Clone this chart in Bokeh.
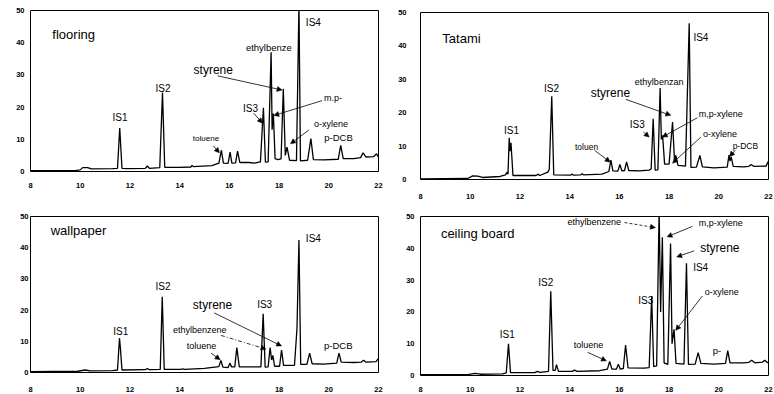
from bokeh.plotting import figure
from bokeh.models import Label, Arrow, NormalHead, FixedTicker, Range1d
from bokeh.layouts import row, column
from bokeh.embed import file_html
from bokeh.resources import INLINE

FONT = "Liberation Sans"

# retention time axis (min) and response axis
x_ticks = [8, 10, 12, 14, 16, 18, 20, 22]
y_ticks = [0, 10, 20, 30, 40, 50]

# ---- flooring ----
flooring_t = [8.0, 9.8, 10.0, 10.1, 10.3, 10.45, 11.3, 11.5, 11.59, 11.63, 11.68, 11.9,
              12.62, 12.7, 12.78, 13.2, 13.31, 13.4, 14.0, 14.45, 14.5, 14.55, 15.3,
              15.58, 15.68, 15.76, 15.95, 16.03, 16.1, 16.25, 16.33, 16.42, 16.8, 17.0,
              17.25, 17.37, 17.45, 17.56, 17.68, 17.72, 17.77, 17.84, 17.95, 18.08, 18.17,
              18.25, 18.32, 18.42, 18.7, 18.8, 18.86, 19.15, 19.28, 19.38, 19.8, 20.38,
              20.48, 20.58, 21.0, 21.28, 21.38, 21.5, 21.8, 21.92, 22.0]
flooring_y = [0.3, 0.3, 0.5, 1.2, 1.2, 0.8, 0.9, 1.0, 13.5, 8.0, 1.0, 0.9,
              1.0, 1.7, 1.0, 1.2, 24.5, 1.3, 1.3, 1.4, 1.9, 1.5, 1.8,
              2.6, 6.6, 2.6, 2.5, 6.0, 2.6, 2.7, 6.3, 2.8, 2.8, 2.6,
              3.0, 19.8, 2.9, 3.0, 37.0, 13.0, 18.0, 4.0, 3.7, 3.9, 25.7,
              5.0, 7.6, 3.5, 3.4, 52.0, 3.3, 3.5, 10.2, 3.7, 3.6, 3.8,
              8.1, 4.0, 4.0, 4.3, 5.8, 4.5, 4.6, 5.5, 4.5]

# ---- Tatami ----
tatami_t = [8.0, 9.9, 10.1, 10.3, 10.5, 11.2, 11.42, 11.48, 11.52, 11.57, 11.6, 11.64, 11.72,
            12.65, 12.72, 12.8, 13.12, 13.18, 13.28, 13.36, 14.05, 14.1, 14.15, 14.45, 14.5,
            14.55, 15.3, 15.58, 15.66, 15.74, 15.94, 16.02, 16.1, 16.21, 16.29, 16.38, 16.8,
            17.2, 17.28, 17.36, 17.44, 17.55, 17.64, 17.69, 17.74, 17.82, 18.0, 18.14, 18.22,
            18.27, 18.36, 18.66, 18.81, 18.88, 19.1, 19.24, 19.34, 19.8, 20.34, 20.41, 20.45,
            20.5, 20.58, 21.0, 21.2, 21.3, 21.42, 21.9, 22.0]
tatami_y = [0.2, 0.3, 1.1, 1.0, 0.6, 0.9, 1.4, 2.2, 1.6, 12.5, 8.5, 11.0, 1.2,
            1.2, 1.6, 1.2, 2.2, 3.0, 24.9, 1.4, 1.3, 1.7, 1.3, 1.4, 1.7,
            1.4, 1.6, 2.4, 5.8, 2.6, 2.5, 4.5, 2.6, 2.7, 5.3, 2.7, 2.6,
            2.8, 3.2, 18.2, 2.8, 2.9, 27.4, 12.0, 13.2, 4.6, 4.6, 17.2, 5.5,
            7.2, 4.2, 4.0, 46.8, 3.6, 3.7, 7.2, 3.8, 3.5, 3.7, 7.3, 5.5,
            6.8, 3.9, 3.8, 3.9, 4.5, 3.9, 4.0, 5.5]

# ---- wallpaper ----
wallpaper_t = [8.0, 9.9, 10.2, 10.4, 11.3, 11.5, 11.58, 11.62, 11.68, 12.62, 12.7, 12.78,
               13.22, 13.3, 13.38, 14.05, 14.12, 14.2, 15.0, 15.58, 15.66, 15.74, 15.95,
               16.02, 16.09, 16.22, 16.3, 16.4, 17.0, 17.27, 17.36, 17.44, 17.56, 17.64,
               17.7, 17.75, 17.82, 18.02, 18.1, 18.18, 18.62, 18.72, 18.8, 18.87, 19.12,
               19.23, 19.33, 19.8, 20.32, 20.41, 20.5, 21.0, 21.3, 21.4, 21.5, 21.9, 22.0]
wallpaper_y = [0.3, 0.4, 0.8, 0.5, 0.6, 0.8, 11.0, 7.5, 0.8, 0.9, 1.3, 0.9,
               1.0, 24.3, 1.0, 1.0, 1.2, 1.0, 1.3, 1.9, 3.9, 1.7, 1.6,
               3.0, 1.8, 1.8, 8.0, 1.8, 1.8, 1.8, 18.8, 1.7, 1.8, 8.0,
               4.0, 5.5, 2.0, 2.0, 7.2, 2.3, 2.3, 14.0, 42.5, 2.6, 2.6,
               6.2, 2.8, 2.7, 3.0, 6.2, 3.3, 3.2, 3.3, 3.9, 3.3, 3.5, 4.5]

# ---- ceiling board ----
ceiling_t = [8.0, 9.9, 10.2, 10.4, 11.3, 11.45, 11.54, 11.62, 12.6, 12.7, 12.8, 13.15,
             13.24, 13.33, 13.42, 13.47, 13.55, 14.1, 14.2, 14.3, 15.2, 15.52, 15.61, 15.7,
             15.88, 15.96, 16.04, 16.16, 16.25, 16.35, 17.0, 17.2, 17.3, 17.38, 17.5, 17.6,
             17.66, 17.73, 17.8, 17.95, 18.06, 18.12, 18.2, 18.28, 18.6, 18.7, 18.78, 19.05,
             19.17, 19.28, 19.8, 20.27, 20.36, 20.45, 21.0, 21.2, 21.32, 21.45, 21.75, 21.85,
             21.95, 22.0]
ceiling_y = [0.3, 0.3, 0.7, 0.4, 0.5, 0.8, 10.0, 0.9, 0.9, 1.3, 1.0, 1.3,
             26.5, 1.6, 1.6, 3.4, 1.3, 1.3, 1.7, 1.3, 1.5, 2.0, 4.4, 2.0,
             2.0, 3.5, 2.0, 2.2, 9.6, 2.4, 2.3, 2.5, 25.0, 2.8, 3.0, 52.0,
             20.0, 43.5, 4.0, 3.5, 41.5, 10.0, 14.5, 3.8, 3.6, 35.3, 3.5, 3.6,
             7.2, 3.8, 3.6, 3.8, 7.8, 4.0, 4.0, 4.1, 4.8, 4.0, 4.2, 4.8,
             4.1, 4.0]

# peak annotations: (text, t, y, font px, align)
flooring_labels = [
    ("flooring", 8.88, 42.5, 13, "left"),
    ("IS1", 11.60, 16.9, 10, "center"),
    ("IS2", 13.33, 25.9, 10, "center"),
    ("toluene", 15.06, 10.2, 8, "center"),
    ("IS3", 16.85, 19.6, 10, "center"),
    ("ethylbenze", 17.59, 38.6, 9.5, "center"),
    ("styrene", 14.56, 31.4, 12, "left"),
    ("m.p-", 20.17, 22.8, 9, "center"),
    ("IS4", 19.38, 46.4, 10, "center"),
    ("o-xylene", 20.09, 14.8, 9, "center"),
    ("p-DCB", 20.39, 10.7, 9.5, "center"),
]
flooring_arrows = [
    (15.35, 8.0, 15.60, 5.8, None),
    (16.98, 18.1, 17.33, 15.0, None),
    (15.53, 29.7, 18.12, 25.3, None),
    (19.73, 22.0, 17.79, 17.4, None),
    (19.20, 12.9, 18.46, 8.6, None),
]

tatami_labels = [
    ("Tatami", 8.88, 42.1, 13, "left"),
    ("IS1", 11.66, 14.7, 10, "center"),
    ("IS2", 13.27, 27.2, 10, "center"),
    ("toluen", 14.68, 9.7, 8.5, "center"),
    ("IS3", 16.72, 16.5, 10, "center"),
    ("ethylbenzan", 17.60, 29.1, 9, "center"),
    ("styrene", 14.85, 25.8, 12, "left"),
    ("m,p-xylene", 20.08, 19.7, 9, "center"),
    ("o-xylene", 20.05, 13.7, 9, "center"),
    ("IS4", 19.28, 42.6, 10, "center"),
    ("p-DCB", 21.07, 9.9, 8.5, "center"),
]
tatami_arrows = [
    (15.01, 8.7, 15.63, 5.2, None),
    (16.97, 14.2, 17.20, 12.7, None),
    (16.26, 24.0, 18.07, 19.2, None),
    (19.14, 18.5, 17.73, 12.7, None),
    (19.28, 12.7, 18.14, 4.9, None),
    (20.66, 8.7, 20.43, 6.9, None),
]

wallpaper_labels = [
    ("wallpaper", 8.81, 45.5, 13, "left"),
    ("IS1", 11.63, 13.0, 10, "center"),
    ("IS2", 13.33, 27.5, 10, "center"),
    ("styrene", 14.53, 21.6, 12, "left"),
    ("ethylbenzene", 14.81, 13.5, 9, "center"),
    ("toluene", 14.88, 8.6, 9, "center"),
    ("IS3", 17.42, 21.9, 10, "center"),
    ("IS4", 19.38, 42.9, 10, "center"),
    ("p-DCB", 20.38, 8.5, 9.5, "center"),
]
wallpaper_arrows = [
    (15.39, 19.1, 18.10, 8.5, None),
    (15.66, 11.9, 17.47, 7.5, "4 2 1 2"),
    (15.26, 6.2, 15.63, 4.1, None),
]

ceiling_labels = [
    ("ceiling board", 8.82, 44.5, 13, "left"),
    ("IS1", 11.49, 12.9, 10, "center"),
    ("IS2", 13.04, 29.3, 10, "center"),
    ("toluene", 14.76, 9.6, 9, "center"),
    ("IS3", 17.06, 23.5, 10, "center"),
    ("ethylbenzene", 14.99, 48.3, 9, "center"),
    ("m,p-xylene", 20.08, 48.1, 9, "center"),
    ("styrene", 19.25, 40.0, 12, "left"),
    ("IS4", 19.27, 34.0, 10, "center"),
    ("o-xylene", 20.12, 26.2, 9, "center"),
    ("p-", 19.93, 8.0, 9.5, "center"),
]
ceiling_arrows = [
    (14.72, 7.3, 15.48, 4.6, None),
    (16.21, 48.1, 17.45, 46.5, "3 2"),
    (18.94, 46.9, 17.92, 43.6, None),
    (19.01, 39.2, 18.31, 37.3, None),
    (19.34, 25.0, 18.27, 14.2, None),
]


def panel(t, sig, labels, arrows, width, height, left, right, top, bottom,
          x_standoff, y_standoff):
    p = figure(width=width, height=height,
               x_range=Range1d(8, 22), y_range=Range1d(0, 50),
               output_backend="svg", toolbar_location=None,
               min_border_left=left, min_border_right=right,
               min_border_top=top, min_border_bottom=bottom,
               background_fill_color="white", border_fill_color="white")
    p.grid.visible = False
    p.outline_line_color = "black"
    p.outline_line_width = 1
    for ax, ticks, so in ((p.xaxis, x_ticks, x_standoff), (p.yaxis, y_ticks, y_standoff)):
        ax.ticker = FixedTicker(ticks=ticks)
        ax.axis_line_color = None
        ax.major_tick_line_color = None
        ax.minor_tick_line_color = None
        ax.major_tick_out = 0
        ax.major_tick_in = 0
        ax.minor_tick_out = 0
        ax.minor_tick_in = 0
        ax.major_label_standoff = so
        ax.major_label_text_font = FONT
        ax.major_label_text_font_size = "7.5px"
        ax.major_label_text_font_style = "bold"
        ax.major_label_text_color = "black"

    p.line(t, sig, line_color="black", line_width=1.3)

    for text, x, y, size, align in labels:
        p.add_layout(Label(x=x, y=y, text=text, text_font=FONT,
                           text_font_size=f"{size}px", text_color="black",
                           text_align=align, text_baseline="middle"))
    for x0, y0, x1, y1, dash in arrows:
        p.add_layout(Arrow(x_start=x0, y_start=y0, x_end=x1, y_end=y1,
                           line_color="black", line_width=0.8,
                           line_dash=dash if dash else "solid",
                           end=NormalHead(size=5, fill_color="black",
                                          line_color="black", line_width=0.5)))
    return p


p_floor = panel(flooring_t, flooring_y, flooring_labels, flooring_arrows,
                387, 199, 30, 9, 10, 28, 11, 6)
p_wall = panel(wallpaper_t, wallpaper_y, wallpaper_labels, wallpaper_arrows,
               387, 195, 29, 9, 17, 19, 14, 2)
p_tatami = panel(tatami_t, tatami_y, tatami_labels, tatami_arrows,
                 387, 202, 33, 6, 12, 23, 14, 14)
p_ceil = panel(ceiling_t, ceiling_y, ceiling_labels, ceiling_arrows,
               387, 192, 33, 6, 14, 16, 11, 6)

layout = row(column(p_floor, p_wall), column(p_tatami, p_ceil))

open("out.html", "w").write(file_html(layout, INLINE))
